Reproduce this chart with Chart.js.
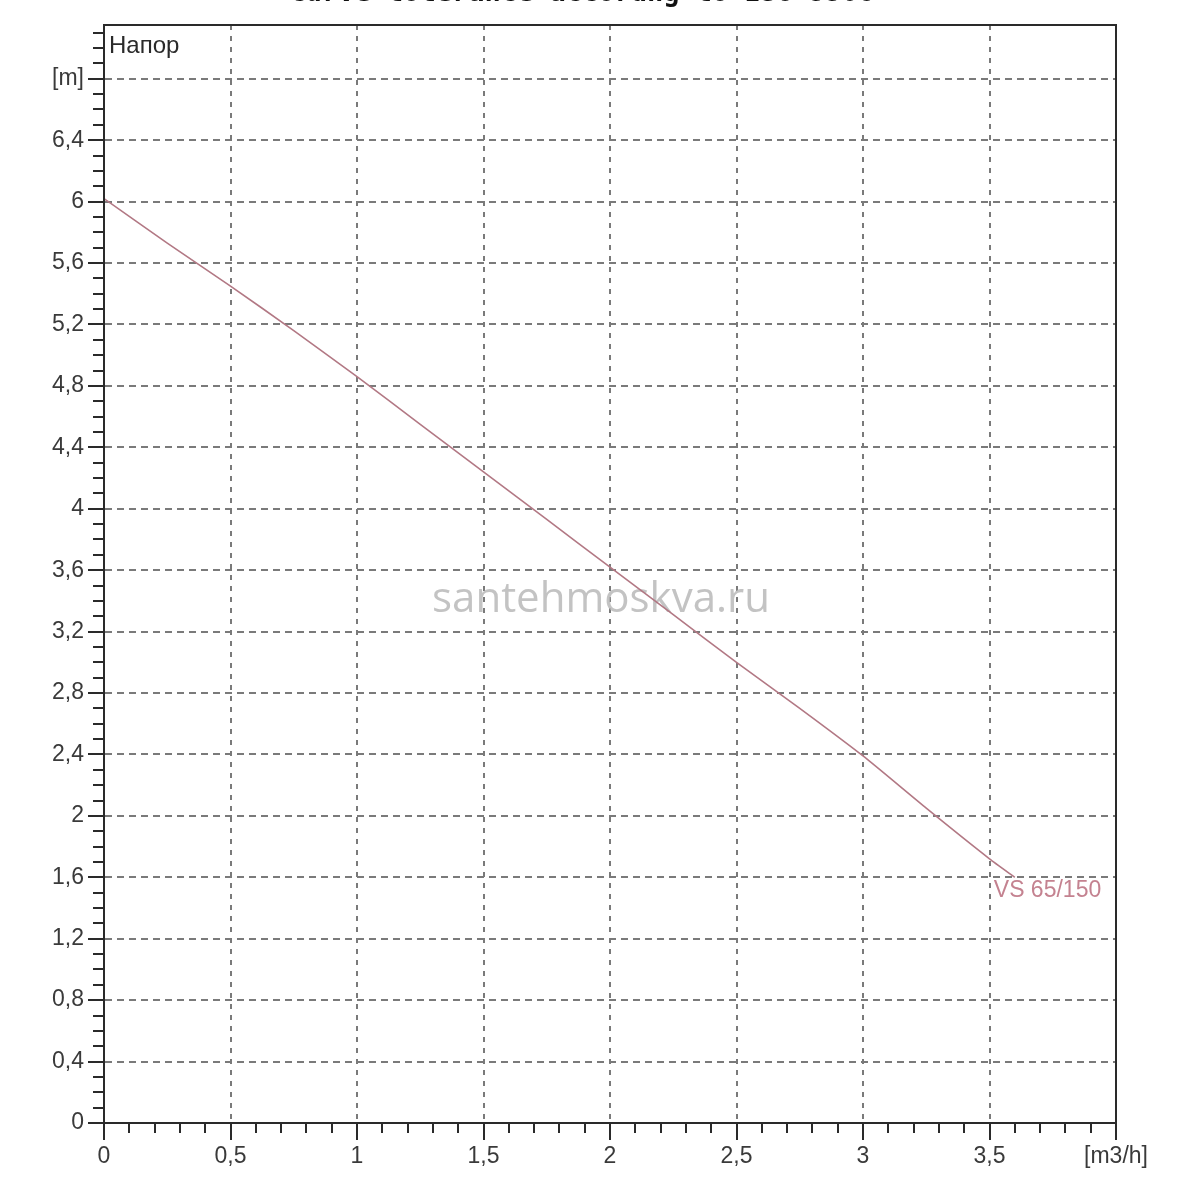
<!DOCTYPE html>
<html>
<head>
<meta charset="utf-8">
<title>VS 65/150</title>
<script src="https://cdn.jsdelivr.net/npm/chart.js@4.4.1/dist/chart.umd.min.js"></script>
<style>
  html, body { margin: 0; padding: 0; background: #fff; }
  #wrap { width: 1200px; height: 1200px; position: relative; }
</style>
</head>
<body>
<div id="wrap"><canvas id="pumpChart" width="1200" height="1200"></canvas></div>
<script>
// pump curve
const flowValues = [0, 0.25, 0.5, 0.75, 1, 1.25, 1.5, 1.75, 2, 2.25, 2.5, 2.75, 3, 3.25, 3.5, 3.6];
const headValues = [6.02, 5.73, 5.45, 5.16, 4.86, 4.55, 4.24, 3.93, 3.62, 3.31, 3.0, 2.7, 2.39, 2.05, 1.72, 1.6];
const seriesName = 'VS 65/150';

const xTicks = [0, 0.5, 1, 1.5, 2, 2.5, 3, 3.5, 4];
const xTickLabels = ['0', '0,5', '1', '1,5', '2', '2,5', '3', '3,5', '[m3/h]'];
const yTicks = [0, 0.4, 0.8, 1.2, 1.6, 2, 2.4, 2.8, 3.2, 3.6, 4, 4.4, 4.8, 5.2, 5.6, 6, 6.4, 6.8];
const yTickLabels = ['0', '0,4', '0,8', '1,2', '1,6', '2', '2,4', '2,8', '3,2', '3,6', '4', '4,4', '4,8', '5,2', '5,6', '6', '6,4', '[m]'];

const titleText = 'Curve tolerance accordng to ISO 9906';
const yAxisName = 'Напор';
const watermark = 'santehmoskva.ru';

const lineColor = '#b27884';
const inkColor = '#2a2a2a';
const gridColor = '#7a7a7a';
const FONT = '"Liberation Sans", Arial, sans-serif';

const decorPlugin = {
  id: 'decor',
  beforeDatasetsDraw(chart) {
    const { ctx } = chart;
    ctx.save();
    // watermark
    ctx.fillStyle = 'rgba(185,185,185,0.85)';
    ctx.font = '42px "Open Sans", "DejaVu Sans", sans-serif';
    ctx.textAlign = 'center';
    ctx.textBaseline = 'middle';
    ctx.fillText(watermark, 601, 600);
    ctx.restore();
  },
  afterDraw(chart) {
    const { ctx, chartArea: a, scales } = chart;
    const xs = scales.x, ys = scales.y;
    ctx.save();
    // frame
    ctx.strokeStyle = inkColor;
    ctx.lineWidth = 2;
    ctx.strokeRect(a.left, a.top, a.right - a.left, a.bottom - a.top);

    // minor ticks
    ctx.lineWidth = 2;
    ctx.beginPath();
    for (let i = 1; i < 40; i++) {
      if (i % 5 === 0) continue;
      const px = Math.round(xs.getPixelForValue(i / 10));
      ctx.moveTo(px, a.bottom);
      ctx.lineTo(px, a.bottom + 10);
    }
    for (let i = 1; i <= 71; i++) {
      if (i % 4 === 0) continue;
      const py = Math.round(ys.getPixelForValue(i / 10));
      if (py < a.top) continue;
      ctx.moveTo(a.left, py);
      ctx.lineTo(a.left - 11, py);
    }
    ctx.stroke();

    // axis name
    ctx.fillStyle = inkColor;
    ctx.font = '24px ' + FONT;
    ctx.textAlign = 'left';
    ctx.textBaseline = 'middle';
    ctx.fillText(yAxisName, a.left + 5, 46);

    // series label at curve end
    const last = flowValues.length - 1;
    const ex = xs.getPixelForValue(flowValues[last]);
    const ey = ys.getPixelForValue(headValues[last]);
    ctx.fillStyle = '#c48290';
    ctx.font = '23px ' + FONT;
    ctx.fillText(seriesName, ex - 21, ey + 13);

    // title, mostly cut off by the top edge
    ctx.fillStyle = '#111';
    ctx.font = 'bold 27px "DejaVu Sans Mono", monospace';
    ctx.textAlign = 'center';
    ctx.textBaseline = 'alphabetic';
    ctx.fillText(titleText, 582, 1);
    ctx.restore();
  }
};

new Chart(document.getElementById('pumpChart').getContext('2d'), {
  type: 'scatter',
  data: {
    datasets: [{
      label: seriesName,
      data: flowValues.map((f, i) => ({ x: f, y: headValues[i] })),
      showLine: true,
      borderColor: lineColor,
      borderWidth: 1.6,
      pointRadius: 0,
      tension: 0.2,
      fill: false
    }]
  },
  options: {
    responsive: false,
    animation: false,
    devicePixelRatio: 1,
    layout: { padding: { top: 25, right: 84, left: 0, bottom: 0 } },
    plugins: { legend: { display: false }, tooltip: { enabled: false }, title: { display: false } },
    scales: {
      x: {
        type: 'linear',
        min: 0,
        max: 4,
        afterBuildTicks: (scale) => { scale.ticks = xTicks.map(v => ({ value: v })); },
        afterFit: (scale) => { scale.height = 77; },
        ticks: {
          autoSkip: false,
          maxRotation: 0,
          padding: 3,
          color: '#3a3a3a',
          font: { family: FONT, size: 23 },
          callback: (v, i) => xTickLabels[i]
        },
        grid: {
          color: gridColor,
          lineWidth: 2,
          drawTicks: true,
          tickLength: 17,
          tickColor: inkColor,
          tickWidth: 2,
          tickBorderDash: [1, 0]
        },
        border: { display: true, color: inkColor, width: 2, dash: [5, 6] }
      },
      y: {
        type: 'linear',
        min: 0,
        max: 7.15,
        afterBuildTicks: (scale) => { scale.ticks = yTicks.map(v => ({ value: v })); },
        afterFit: (scale) => { scale.width = 104; },
        ticks: {
          autoSkip: false,
          padding: 4,
          color: '#3a3a3a',
          font: { family: FONT, size: 23 },
          callback: (v, i) => yTickLabels[i]
        },
        grid: {
          color: gridColor,
          lineWidth: 2,
          drawTicks: true,
          tickLength: 16,
          tickColor: inkColor,
          tickWidth: 2,
          tickBorderDash: [1, 0]
        },
        border: { display: true, color: inkColor, width: 2, dash: [7, 5] }
      }
    }
  },
  plugins: [decorPlugin]
});
</script>
</body>
</html>
